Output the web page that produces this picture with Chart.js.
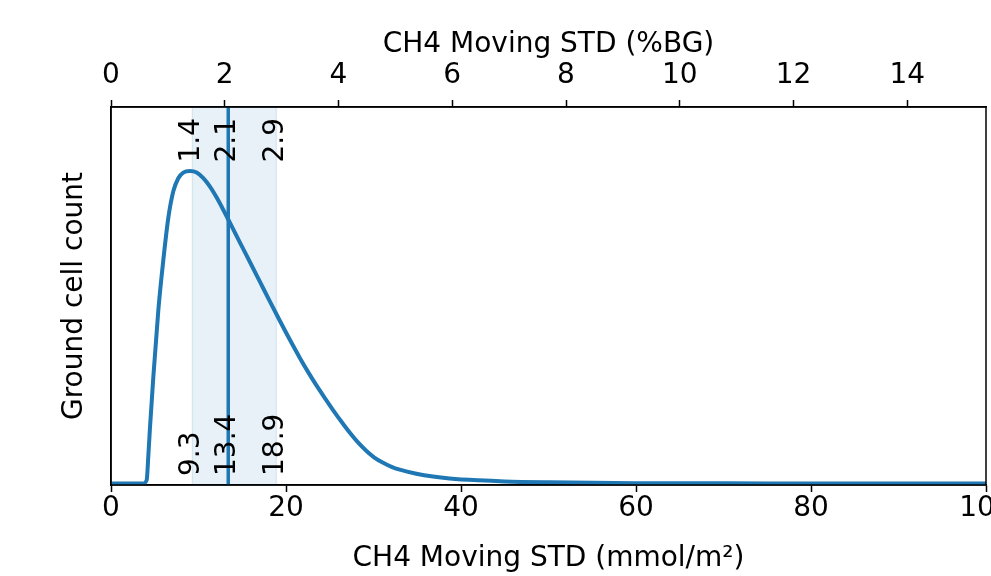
<!DOCTYPE html>
<html>
<head>
<meta charset="utf-8">
<script src="https://cdn.jsdelivr.net/npm/chart.js@4"></script>
<style>
  html, body { margin: 0; padding: 0; background: #fff; overflow: hidden; }
  #wrap { position: relative; width: 1026px; height: 576px; }
</style>
</head>
<body>
<div id="wrap"><canvas id="stdChart"></canvas></div>
<script>
// distribution of moving STD (mmol/m2) vs ground cell count (arbitrary units)
const stdMmol   = [0, 3.7, 4.08, 4.27, 4.46, 4.84, 5.41, 5.98, 6.55, 7.12, 7.69, 8.26, 9.03, 9.79, 10.55, 11.31, 12.08, 12.83, 13.6, 14.74, 15.89, 17.03, 18.17, 19.31, 20.46, 21.6, 22.5, 23.5, 24.5, 25.4, 26.3, 27.3, 28.2, 29.2, 30.1, 31.1, 32, 33, 34.9, 36.8, 38.7, 42, 45, 50, 55, 60, 70, 80, 100];
const cellCount = [0, 0, 1.1, 9, 18.1, 34.2, 55.5, 71.5, 85, 93.5, 97.7, 99.5, 100, 99.5, 97.7, 95, 91.5, 87.6, 83.4, 77.1, 70.8, 64.5, 58.2, 52, 45.9, 40.1, 35.8, 31.3, 27.1, 23.4, 19.9, 16.2, 13.2, 10.4, 8.3, 6.6, 5.4, 4.4, 3.1, 2.2, 1.6, 1.0, 0.65, 0.36, 0.19, 0.1, 0.03, 0.01, 0];

// 25th / 50th / 75th percentiles
const pctMmol  = [9.3, 13.4, 18.9];
const pctLabel = ['9.3', '13.4', '18.9'];
const pctBG    = ['1.4', '2.1', '2.9'];

const mmolPerBG  = 6.5;
const bottomTicks = [0, 20, 40, 60, 80, 100];
const topTicks    = [0, 2, 4, 6, 8, 10, 12, 14];

const blue = '#1f77b4';
Chart.defaults.font.family = 'DejaVu Sans';
Chart.defaults.font.size = 28;
Chart.defaults.color = '#000';

const percentilePlugin = {
  id: 'percentiles',
  beforeDatasetsDraw(chart) {
    const {ctx, chartArea: a, scales: {x}} = chart;
    const x0 = x.getPixelForValue(pctMmol[0]);
    const x2 = x.getPixelForValue(pctMmol[2]);
    ctx.save();
    ctx.fillStyle = 'rgba(31,119,180,0.1)';
    ctx.fillRect(x0, a.top, x2 - x0, a.bottom - a.top);
    ctx.strokeStyle = 'rgba(31,119,180,0.12)';
    ctx.lineWidth = 1.5;
    ctx.strokeRect(x0, a.top, x2 - x0, a.bottom - a.top);
    ctx.restore();
  },
  afterDatasetsDraw(chart) {
    const {ctx, chartArea: a, scales: {x}} = chart;
    ctx.save();
    const xm = x.getPixelForValue(pctMmol[1]);
    ctx.strokeStyle = blue;
    ctx.lineWidth = 3.5;
    ctx.beginPath();
    ctx.moveTo(xm, a.top);
    ctx.lineTo(xm, a.bottom);
    ctx.stroke();

    ctx.fillStyle = '#000';
    ctx.font = '28px "DejaVu Sans"';
    ctx.textBaseline = 'alphabetic';
    pctMmol.forEach((v, i) => {
      const px = x.getPixelForValue(v) + 7;
      ctx.save();
      ctx.translate(px, a.top + 11);
      ctx.rotate(-Math.PI / 2);
      ctx.textAlign = 'right';
      ctx.fillText(pctBG[i], 0, 0);
      ctx.restore();
      ctx.save();
      ctx.translate(px, a.bottom - 9);
      ctx.rotate(-Math.PI / 2);
      ctx.textAlign = 'left';
      ctx.fillText(pctLabel[i], 0, 0);
      ctx.restore();
    });

    // frame
    ctx.strokeStyle = '#000';
    ctx.lineWidth = 1.5;
    ctx.strokeRect(a.left, a.top, a.right - a.left, a.bottom - a.top);
    ctx.restore();
  }
};

const axisTicks = (vals) => (scale) => { scale.ticks = vals.map(v => ({value: v})); };
const tickGrid = { display: true, drawOnChartArea: false, drawTicks: true, tickLength: 7, tickColor: '#000', tickWidth: 1.5 };
const spine = { display: true, color: '#000', width: 1.5 };

new Chart(document.getElementById('stdChart'), {
  type: 'line',
  data: {
    datasets: [{
      data: stdMmol.map((v, i) => ({x: v, y: cellCount[i]})),
      borderColor: blue,
      borderWidth: 4,
      pointRadius: 0,
      cubicInterpolationMode: 'monotone',
      fill: false
    }]
  },
  options: {
    responsive: true,
    maintainAspectRatio: false,
    animation: false,
    layout: { padding: { left: 0, top: 0, right: 40, bottom: 0 } },
    plugins: { legend: { display: false }, tooltip: { enabled: false } },
    scales: {
      x: {
        type: 'linear', position: 'bottom', min: 0, max: 100,
        afterBuildTicks: axisTicks(bottomTicks),
        afterFit: (s) => { s.height = 91; },
        grid: tickGrid,
        border: spine,
        ticks: { padding: 0, maxRotation: 0 },
        title: { display: true, text: 'CH4 Moving STD (mmol/m²)', padding: { top: 4, bottom: 0 } }
      },
      x2: {
        type: 'linear', position: 'top', min: 0, max: 100 / mmolPerBG,
        afterBuildTicks: axisTicks(topTicks),
        afterFit: (s) => { s.height = 107; },
        grid: tickGrid,
        border: spine,
        ticks: { padding: 7, maxRotation: 0 },
        title: { display: true, text: 'CH4 Moving STD (%BG)', padding: { top: 28, bottom: 0 } }
      },
      y: {
        min: -0.5, max: 120.5,
        afterFit: (s) => { s.width = 111; },
        ticks: { display: false },
        grid: { display: false, drawTicks: false },
        border: spine,
        title: { display: true, text: 'Ground cell count', padding: { top: 58, bottom: 0 } }
      }
    }
  },
  plugins: [percentilePlugin]
});
</script>
</body>
</html>
